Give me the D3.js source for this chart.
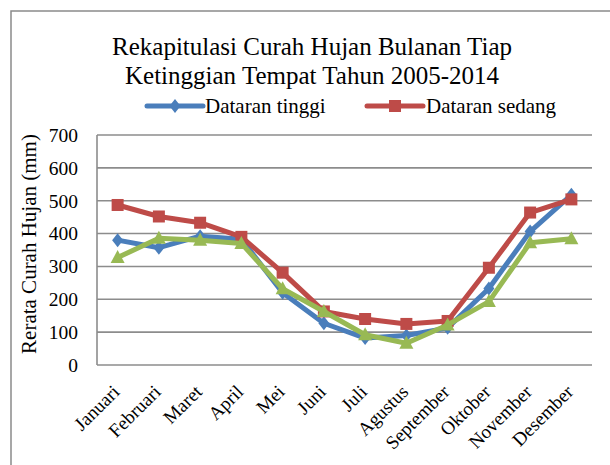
<!DOCTYPE html>
<html>
<head>
<meta charset="utf-8">
<script src="https://cdn.jsdelivr.net/npm/d3@7"></script>
<style>
  body { margin: 0; background: #fff; }
  svg text { font-family: "Liberation Serif", "Times New Roman", serif; fill: #000; }
</style>
</head>
<body>
<script>
// data
var bulan = ["Januari", "Februari", "Maret", "April", "Mei", "Juni", "Juli",
  "Agustus", "September", "Oktober", "November", "Desember"];
var dataranTinggi = [380, 357, 392, 383, 220, 127, 82, 90, 113, 233, 406, 518];
var dataranSedang = [487, 452, 433, 390, 281, 163, 140, 125, 134, 296, 464, 504];
var dataranRendah = [327, 386, 380, 370, 232, 163, 92, 66, 122, 193, 372, 384];
var yTicks = [0, 100, 200, 300, 400, 500, 600, 700];

var series = [
  { name: "Dataran tinggi", values: dataranTinggi, color: "#4a7ebb", marker: "diamond" },
  { name: "Dataran sedang", values: dataranSedang, color: "#be4b48", marker: "square" },
  { name: "Dataran rendah", values: dataranRendah, color: "#98b954", marker: "triangle" }
];

var W = 610, H = 465;
// plot area bounds (note: "top" is reserved on window)
var plotL = 97, plotR = 592, plotT = 135, plotB = 365;

var svg = d3.select("body").append("svg")
  .attr("width", W).attr("height", H);

// outer chart border (runs off the right and bottom edge)
svg.append("rect")
  .attr("x", 11).attr("y", 11).attr("width", 640).attr("height", 500)
  .attr("fill", "none").attr("stroke", "#8a8a8a").attr("stroke-width", 1.5);

var x = d3.scalePoint().domain(bulan).range([plotL, plotR]).padding(0.5);
var y = d3.scaleLinear().domain([0, 700]).range([plotB, plotT]);

// gridlines
svg.append("g").selectAll("line").data(yTicks.slice(1)).enter().append("line")
  .attr("x1", plotL).attr("x2", plotR)
  .attr("y1", function (d) { return y(d); }).attr("y2", function (d) { return y(d); })
  .attr("stroke", "#8c8c8c").attr("stroke-width", 1.6);

// axis lines
svg.append("line").attr("x1", plotL).attr("x2", plotL).attr("y1", plotT).attr("y2", plotB)
  .attr("stroke", "#8c8c8c").attr("stroke-width", 1.6);
svg.append("line").attr("x1", plotL).attr("x2", plotR).attr("y1", plotB).attr("y2", plotB)
  .attr("stroke", "#8c8c8c").attr("stroke-width", 1.6);

// y tick labels
svg.append("g").selectAll("text").data(yTicks).enter().append("text")
  .attr("x", 78).attr("y", function (d) { return y(d); })
  .attr("dy", "0.35em")
  .attr("text-anchor", "end")
  .style("font-size", "19.5px")
  .text(function (d) { return d; });

// x labels, rotated
svg.append("g").selectAll("text").data(bulan).enter().append("text")
  .attr("transform", function (d) { return "translate(" + (x(d) + 3) + "," + 393 + ") rotate(-45)"; })
  .attr("text-anchor", "end")
  .style("font-size", "19px")
  .text(function (d) { return d; });

// y axis title
svg.append("text")
  .attr("transform", "translate(36,244) rotate(-90)")
  .attr("text-anchor", "middle")
  .style("font-size", "21px")
  .text("Rerata Curah Hujan (mm)");

// title
var title = svg.append("text").attr("text-anchor", "middle").style("font-size", "25px");
title.append("tspan").attr("x", 312).attr("y", 55).text("Rekapitulasi Curah Hujan Bulanan Tiap");
title.append("tspan").attr("x", 312).attr("y", 84).text("Ketinggian Tempat Tahun 2005-2014");

function marker(sel, type, color) {
  if (type === "diamond") {
    sel.append("path").attr("d", "M0,-7L5.5,0L0,7L-5.5,0Z").attr("fill", color);
  } else if (type === "square") {
    sel.append("rect").attr("x", -6).attr("y", -6).attr("width", 12).attr("height", 12).attr("fill", color);
  } else {
    sel.append("path").attr("d", "M0,-7.5L7,5.5L-7,5.5Z").attr("fill", color);
  }
}

var line = d3.line()
  .x(function (d, i) { return x(bulan[i]); })
  .y(function (d) { return y(d); });

series.forEach(function (s) {
  var g = svg.append("g");
  g.append("path").datum(s.values)
    .attr("d", line)
    .attr("fill", "none").attr("stroke", s.color)
    .attr("stroke-width", 5).attr("stroke-linejoin", "round");
  s.values.forEach(function (v, i) {
    var m = g.append("g").attr("transform", "translate(" + x(bulan[i]) + "," + y(v) + ")");
    marker(m, s.marker, s.color);
  });
});

// legend (only the first two entries fit in the frame)
var legendPos = [{ x: 147, tx: 205 }, { x: 367, tx: 426 }];
series.slice(0, 2).forEach(function (s, i) {
  var lg = svg.append("g");
  var lx = legendPos[i].x;
  lg.append("line").attr("x1", lx).attr("x2", lx + 56).attr("y1", 106).attr("y2", 106)
    .attr("stroke", s.color).attr("stroke-width", 5).attr("stroke-linecap", "round");
  var m = lg.append("g").attr("transform", "translate(" + (lx + 28) + ",106)");
  marker(m, s.marker, s.color);
  lg.append("text").attr("x", legendPos[i].tx).attr("y", 113)
    .style("font-size", "21px").text(s.name);
});
</script>
</body>
</html>
